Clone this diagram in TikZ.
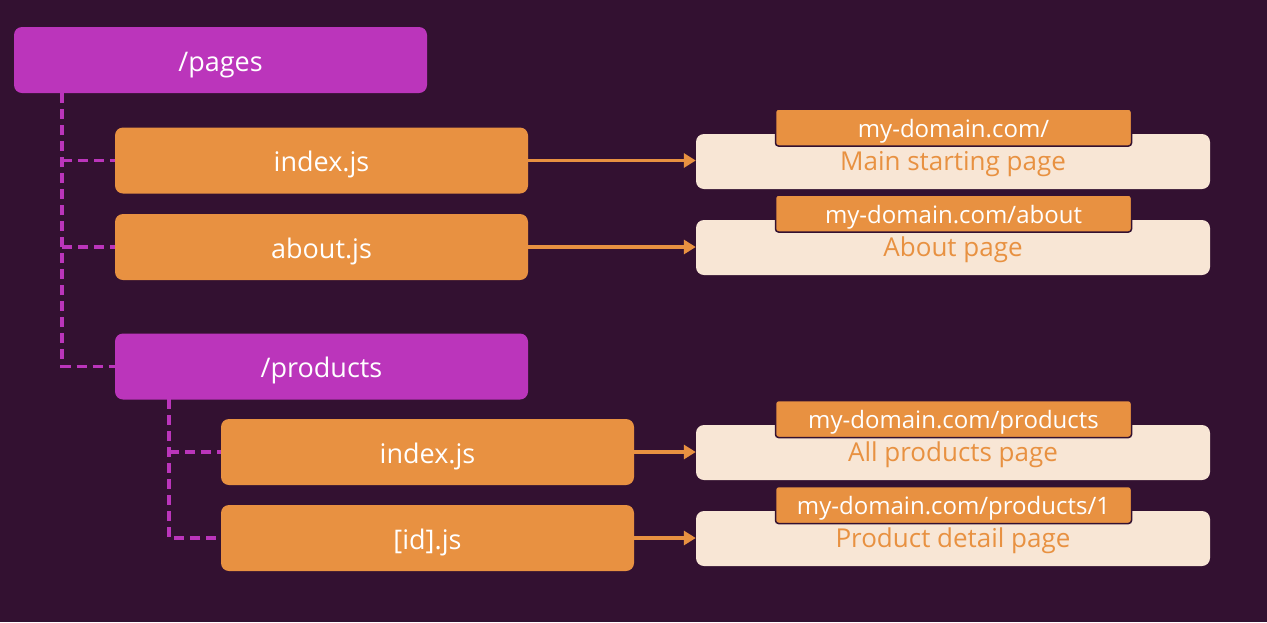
\documentclass[tikz,border=0pt]{standalone}
\usepackage{fontspec}
\setmainfont{Open Sans}
\usetikzlibrary{arrows.meta}
\definecolor{bgpurple}{HTML}{331131}
\definecolor{folder}{HTML}{BB35BB}
\definecolor{file}{HTML}{E89141}
\definecolor{cream}{HTML}{F8E6D5}

\begin{document}
\begin{tikzpicture}[x=1pt,y=-1pt,
		dirbox/.style={fill=folder, rounded corners=8pt, minimum width=413pt, minimum height=66pt, text=white, text height=22pt, text depth=0pt, font=\fontsize{27}{30}\selectfont},
		filebox/.style={dirbox, fill=file},
		pagebox/.style={fill=cream, rounded corners=8pt, minimum width=514pt, minimum height=55pt, text=file, text height=17pt, text depth=0pt, font=\fontsize{26}{30}\selectfont},
		urlbox/.style={fill=file, draw=bgpurple, line width=1.5pt, rounded corners=3pt, minimum width=356pt, minimum height=37pt, text=white, text height=19pt, text depth=0pt, font=\fontsize{24}{26}\selectfont},
		tree/.style={draw=folder, line width=3.5pt, dash pattern=on 10pt off 6pt},
		link/.style={draw=file, line width=3.5pt, -{Triangle[length=12pt,width=14pt]}}]
		\fill[bgpurple] (0,0) rectangle (1267,622);
		\useasboundingbox (0,0) rectangle (1267,622);
		%%%%%%%%%%%%%
		\node[dirbox] (pages) at (220.5, 60) {/pages};
		\node[filebox] (idx) at (321.5, 160.5) {index.js};
		\node[filebox] (about) at (321.5, 247) {about.js};
		\node[dirbox] (prod) at (321.5, 366.5) {/products};
		\node[filebox] (pidx) at (427.5, 452) {index.js};
		\node[filebox] (pid) at (427.5, 538) {[id].js};
		%%%%%%%%%%%%%
		\node[pagebox] (main) at (953, 161.5) {Main starting page};
		\node[pagebox] (abpg) at (953, 247.5) {About page};
		\node[pagebox] (all) at (953, 452.5) {All products page};
		\node[pagebox] (det) at (953, 538.5) {Product detail page};
		\node[urlbox] (u1) at (953.5, 127.5) {my-domain.com/};
		\node[urlbox] (u2) at (953.5, 213.5) {my-domain.com/about};
		\node[urlbox] (u3) at (953.5, 419) {my-domain.com/products};
		\node[urlbox] (u4) at (953.5, 505) {my-domain.com/products/1};
		%%%%%%%%%%%%%
		\coordinate (t1) at (62, 93);
		\coordinate (t2) at (169, 399);
		\draw[tree] (t1) |- (prod.west);
		\draw[tree] (t1 |- idx.west) -- (idx.west);
		\draw[tree] (t1 |- about.west) -- (about.west);
		\draw[tree] (t2) |- (pid.west);
		\draw[tree] (t2 |- pidx.west) -- (pidx.west);
		%%%%%%%%%%%%%
		\draw[link] (idx.east) -- (idx.east -| main.west);
		\draw[link] (about.east) -- (about.east -| abpg.west);
		\draw[link] (pidx.east) -- (pidx.east -| all.west);
		\draw[link] (pid.east) -- (pid.east -| det.west);
	\end{tikzpicture}
\end{document}
